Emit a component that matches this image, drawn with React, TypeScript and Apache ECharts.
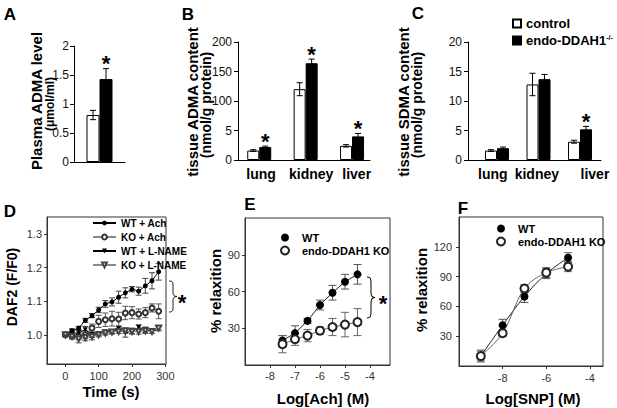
import React, { useEffect, useRef } from 'react';
import * as echarts from 'echarts';

const FONT = '"Liberation Sans", Arial, Helvetica, sans-serif';

// ---------- Panel A ----------
const aCategories = ['plasma'];
const aControl = [0.81];
const aControlErr = [0.08];
const aKo = [1.43];
const aKoErr = [0.18];
const aSig = [true];

// ---------- Panels B & C ----------
const organCategories = ['lung', 'kidney', 'liver'];
const bControl = [16, 120, 24];
const bControlErr = [1.5, 11, 2];
const bKo = [22, 164, 40];
const bKoErr = [1.5, 7, 5];
const bSig = [true, true, true];
const bTickValues = [0, 50, 100, 150, 200];
const bTickLabels = ['0', '5', '100', '150', '200'];

const cControl = [1.6, 12.8, 3.1];
const cControlErr = [0.15, 1.9, 0.25];
const cKo = [2.0, 13.7, 5.2];
const cKoErr = [0.2, 0.8, 0.5];
const cSig = [false, false, true];

const legendNames = ['control', 'endo-DDAH1-/-'];

// ---------- Panel D ----------
const dTime = [0, 20, 40, 60, 80, 100, 120, 140, 160, 180, 200, 220, 240, 260, 280];
const dWtAch = [1.0, 1.012, 1.02, 1.043, 1.057, 1.074, 1.092, 1.098, 1.112, 1.125, 1.136, 1.13, 1.146, 1.161, 1.188];
const dWtAchErr = [0.004, 0.006, 0.005, 0.006, 0.006, 0.008, 0.01, 0.012, 0.018, 0.015, 0.008, 0.012, 0.022, 0.024, 0.025];
const dKoAch = [1.0, 0.997, 0.995, 1.0, 1.02, 1.04, 1.045, 1.048, 1.047, 1.065, 1.066, 1.062, 1.066, 1.08, 1.07];
const dKoAchErr = [0.006, 0.008, 0.01, 0.012, 0.012, 0.018, 0.02, 0.022, 0.02, 0.02, 0.018, 0.015, 0.015, 0.012, 0.022];
const dWtLn = [1.0, 1.005, 1.005, 1.015, 1.0, 1.003, 1.008, 1.01, 1.018, 1.005, 1.012, 1.022, 1.015, 1.01, 1.018];
const dWtLnErr = [0.005, 0.006, 0.008, 0.01, 0.008, 0.006, 0.006, 0.006, 0.006, 0.012, 0.008, 0.008, 0.008, 0.006, 0.006];
const dKoLn = [1.0, 0.995, 0.988, 0.992, 0.995, 1.0, 1.005, 1.008, 1.01, 1.012, 1.01, 1.01, 1.012, 1.01, 1.02];
const dKoLnErr = [0.006, 0.008, 0.012, 0.01, 0.01, 0.006, 0.006, 0.006, 0.006, 0.008, 0.008, 0.008, 0.008, 0.006, 0.006];
const dSeriesNames = ['WT + Ach', 'KO + Ach', 'WT + L-NAME', 'KO + L-NAME'];
const dXTicks = [0, 100, 200, 300];
const dYTicks = [1.0, 1.1, 1.2, 1.3];

// ---------- Panel E ----------
const eLogAch = [-7.5, -7, -6.5, -6, -5.5, -5, -4.5];
const eWt = [20, 26, 36, 49, 59, 68, 74];
const eWtErr = [4, 6, 2, 4, 6, 6, 8];
const eKo = [17, 21, 24, 28, 31, 33, 35];
const eKoErr = [7, 5, 5, 3, 7, 10, 11];
const eXTicks = [-8, -7, -6, -5, -4];
const eYTicks = [30, 60, 90];

// ---------- Panel F ----------
const fLogSnp = [-9, -8, -7, -6, -5];
const fWt = [10, 41, 70, 93, 109];
const fWtErr = [5, 6, 6, 5, 5];
const fKo = [10, 33, 78, 94, 100];
const fKoErr = [6, 3, 4, 5, 5];
const fXTicks = [-8, -6, -4];
const fYTicks = [30, 60, 90, 120];

const genotypeNames = ['WT', 'endo-DDAH1 KO'];

// layout: where the organ names sit along the B and C axes (axis units)
const bLabelSpots = [0.04, 1.12, 2.1];
const cLabelSpots = [-0.1, 0.96, 2.36];

const BRACE_PATH =
  'M0,0 C4,0 4,2 4,7 L4,15 C4,18 5,20 8,20 C5,20 4,22 4,25 L4,33 C4,38 4,40 0,40';
echarts.graphic.registerShape('brace', echarts.graphic.extendPath(BRACE_PATH, {}) as any);

function barErrorSeries(
  axisIndex: number,
  values: number[],
  errs: number[],
  offset: number,
  sig: boolean[] | null
) {
  return {
    type: 'custom',
    xAxisIndex: axisIndex,
    yAxisIndex: axisIndex,
    silent: true,
    z: 5,
    data: values.map((v, i) => [i, v, errs[i]]),
    renderItem: (params: any, api: any) => {
      const x = api.value(0);
      const v = api.value(1);
      const e = api.value(2);
      const t = api.coord([x, v + e]);
      const b = api.coord([x, v - e]);
      const cx = t[0] + offset;
      const cap = 3;
      const st = { stroke: '#000', lineWidth: 1 };
      const children: any[] = [
        { type: 'line', shape: { x1: cx, y1: t[1], x2: cx, y2: b[1] }, style: st },
        { type: 'line', shape: { x1: cx - cap, y1: t[1], x2: cx + cap, y2: t[1] }, style: st },
        { type: 'line', shape: { x1: cx - cap, y1: b[1], x2: cx + cap, y2: b[1] }, style: st },
      ];
      if (sig && sig[params.dataIndex]) {
        children.push({
          type: 'text',
          x: cx,
          y: t[1] - 5,
          style: {
            text: '*',
            fontFamily: FONT,
            fontSize: 22,
            fontWeight: 'bold',
            fill: '#000',
            align: 'center',
            verticalAlign: 'middle',
          },
        });
      }
      return { type: 'group', children };
    },
  };
}

function pointErrorSeries(
  axisIndex: number,
  xs: number[],
  values: number[],
  errs: number[],
  cap: number,
  color: string
) {
  return {
    type: 'custom',
    xAxisIndex: axisIndex,
    yAxisIndex: axisIndex,
    silent: true,
    z: 1,
    data: xs.map((x, i) => [x, values[i], errs[i]]),
    renderItem: (_params: any, api: any) => {
      const x = api.value(0);
      const v = api.value(1);
      const e = api.value(2);
      const t = api.coord([x, v + e]);
      const b = api.coord([x, v - e]);
      const cx = t[0];
      const st = { stroke: color, lineWidth: 1 };
      return {
        type: 'group',
        children: [
          { type: 'line', shape: { x1: cx, y1: t[1], x2: cx, y2: b[1] }, style: st },
          { type: 'line', shape: { x1: cx - cap, y1: t[1], x2: cx + cap, y2: t[1] }, style: st },
          { type: 'line', shape: { x1: cx - cap, y1: b[1], x2: cx + cap, y2: b[1] }, style: st },
        ],
      };
    },
  };
}

function lineSeries(
  name: string,
  axisIndex: number,
  xs: number[],
  values: number[],
  symbol: string,
  size: number,
  markerColor: string,
  lineColor: string,
  extra: any = {}
) {
  return {
    type: 'line',
    name,
    xAxisIndex: axisIndex,
    yAxisIndex: axisIndex,
    data: xs.map((x, i) => [x, values[i]]),
    symbol,
    symbolSize: size,
    showSymbol: true,
    itemStyle: { color: markerColor, borderWidth: 1 },
    lineStyle: { color: lineColor, width: 1 },
    z: 3,
    ...extra,
  };
}

const tickLabel = { fontFamily: FONT, fontSize: 12, color: '#111' };
const smallTick = { fontFamily: FONT, fontSize: 11, color: '#333' };
const black = { color: '#000', width: 1 };

function textEl(text: string, x: number, y: number, size: number, rotate = false, extra: any = {}) {
  return {
    type: 'text',
    x,
    y,
    rotation: rotate ? Math.PI / 2 : 0,
    style: {
      text,
      fontFamily: FONT,
      fontSize: size,
      fontWeight: 'bold',
      fill: '#000',
      align: 'center',
      verticalAlign: 'middle',
      ...extra,
    },
  };
}

function buildOption(): any {
  const grids = [
    { left: 74, top: 46, width: 51, height: 116 },
    { left: 238, top: 42, width: 132, height: 118 },
    { left: 468, top: 42, width: 133, height: 118 },
    { left: 47, top: 217, width: 119, height: 147, show: true, borderColor: '#333', borderWidth: 1 },
    { left: 245, top: 218, width: 145, height: 147, show: true, borderColor: '#333', borderWidth: 1 },
    { left: 459, top: 217, width: 144, height: 149, show: true, borderColor: '#333', borderWidth: 1 },
  ].map((g) => ({ ...g, containLabel: false, outerBoundsMode: 'none' }));

  const catAxisLabel = {
    fontFamily: FONT,
    fontSize: 14,
    fontWeight: 'bold',
    color: '#000',
    margin: 7,
  };
  const organName = (v: number) => organCategories[Math.max(0, Math.min(2, Math.round(v)))];

  const xAxes = [
    {
      gridIndex: 0,
      type: 'category',
      data: aCategories,
      axisLine: { onZero: false, lineStyle: black },
      axisTick: { show: false },
      axisLabel: { show: false },
    },
    {
      gridIndex: 1,
      type: 'value',
      min: -0.458,
      max: 2.387,
      axisLine: { onZero: false, lineStyle: black },
      axisTick: { show: false },
      splitLine: { show: false },
      axisLabel: { ...catAxisLabel, customValues: bLabelSpots, formatter: organName },
    },
    {
      gridIndex: 2,
      type: 'value',
      min: -0.699,
      max: 2.506,
      axisLine: { onZero: false, lineStyle: black },
      axisTick: { show: false },
      splitLine: { show: false },
      axisLabel: { ...catAxisLabel, customValues: cLabelSpots, formatter: organName },
    },
    {
      gridIndex: 3,
      type: 'value',
      min: -55,
      max: 302,
      axisLine: { onZero: false, lineStyle: { color: '#333', width: 1 } },
      axisTick: { customValues: dXTicks, length: 3, lineStyle: { color: '#333' } },
      splitLine: { show: false },
      axisLabel: { ...smallTick, customValues: dXTicks, margin: 6 },
    },
    {
      gridIndex: 4,
      type: 'value',
      min: -9,
      max: -3.2,
      axisLine: { onZero: false, lineStyle: { color: '#333', width: 1 } },
      axisTick: { customValues: eXTicks, length: 3, lineStyle: { color: '#333' } },
      splitLine: { show: false },
      axisLabel: { ...smallTick, customValues: eXTicks, margin: 5 },
    },
    {
      gridIndex: 5,
      type: 'value',
      min: -10,
      max: -3.4,
      axisLine: { onZero: false, lineStyle: { color: '#333', width: 1 } },
      axisTick: { customValues: fXTicks, length: 3, lineStyle: { color: '#333' } },
      splitLine: { show: false },
      axisLabel: { ...smallTick, customValues: fXTicks, margin: 6 },
    },
  ];

  const yAxes = [
    {
      gridIndex: 0,
      type: 'value',
      min: 0,
      max: 2,
      interval: 0.5,
      axisLine: { show: true, onZero: false, lineStyle: black },
      axisTick: { show: true, length: 4, lineStyle: black },
      splitLine: { show: false },
      axisLabel: { ...tickLabel, margin: 5 },
    },
    {
      gridIndex: 1,
      type: 'value',
      min: 0,
      max: 200,
      interval: 50,
      axisLine: { show: true, onZero: false, lineStyle: black },
      axisTick: { show: true, length: 4, lineStyle: black },
      splitLine: { show: false },
      axisLabel: {
        ...tickLabel,
        margin: 6,
        formatter: (v: number) => bTickLabels[bTickValues.indexOf(v)] ?? String(v),
      },
    },
    {
      gridIndex: 2,
      type: 'value',
      min: 0,
      max: 20,
      interval: 5,
      axisLine: { show: true, onZero: false, lineStyle: black },
      axisTick: { show: true, length: 4, lineStyle: black },
      splitLine: { show: false },
      axisLabel: { ...tickLabel, margin: 6 },
    },
    {
      gridIndex: 3,
      type: 'value',
      min: 0.913,
      max: 1.351,
      axisLine: { show: true, onZero: false, lineStyle: { color: '#333', width: 1 } },
      axisTick: { show: true, customValues: dYTicks, length: 3, lineStyle: { color: '#333' } },
      splitLine: { show: false },
      axisLabel: { ...smallTick, customValues: dYTicks, margin: 5, formatter: (v: number) => v.toFixed(1) },
    },
    {
      gridIndex: 4,
      type: 'value',
      min: 0,
      max: 120,
      axisLine: { show: true, onZero: false, lineStyle: { color: '#333', width: 1 } },
      axisTick: { show: true, customValues: eYTicks, length: 3, lineStyle: { color: '#333' } },
      splitLine: { show: false },
      axisLabel: { ...smallTick, customValues: eYTicks, margin: 5 },
    },
    {
      gridIndex: 5,
      type: 'value',
      min: 0,
      max: 150,
      axisLine: { show: true, onZero: false, lineStyle: { color: '#333', width: 1 } },
      axisTick: { show: true, customValues: fYTicks, length: 3, lineStyle: { color: '#333' } },
      splitLine: { show: false },
      axisLabel: { ...smallTick, customValues: fYTicks, margin: 7 },
    },
  ];

  const whiteBar = { color: '#fff', borderColor: '#000', borderWidth: 1 };
  const blackBar = { color: '#000', borderColor: '#000', borderWidth: 1 };
  const bw = 12;

  const series: any[] = [
    // A
    { type: 'bar', name: legendNames[0], xAxisIndex: 0, yAxisIndex: 0, data: aControl, barWidth: 13, barGap: '0%', itemStyle: whiteBar },
    { type: 'bar', name: legendNames[1], xAxisIndex: 0, yAxisIndex: 0, data: aKo, barWidth: 13, barGap: '0%', itemStyle: blackBar },
    barErrorSeries(0, aControl, aControlErr, -6.5, null),
    barErrorSeries(0, aKo, aKoErr, 6.5, aSig),
    // B
    { type: 'bar', name: legendNames[0], xAxisIndex: 1, yAxisIndex: 1, data: bControl.map((v, i) => [i, v]), barWidth: bw, barGap: '0%', itemStyle: whiteBar },
    { type: 'bar', name: legendNames[1], xAxisIndex: 1, yAxisIndex: 1, data: bKo.map((v, i) => [i, v]), barWidth: bw, barGap: '0%', itemStyle: blackBar },
    barErrorSeries(1, bControl, bControlErr, -bw / 2, null),
    barErrorSeries(1, bKo, bKoErr, bw / 2, bSig),
    // C
    { type: 'bar', name: legendNames[0], xAxisIndex: 2, yAxisIndex: 2, data: cControl.map((v, i) => [i, v]), barWidth: bw, barGap: '0%', itemStyle: whiteBar },
    { type: 'bar', name: legendNames[1], xAxisIndex: 2, yAxisIndex: 2, data: cKo.map((v, i) => [i, v]), barWidth: bw, barGap: '0%', itemStyle: blackBar },
    barErrorSeries(2, cControl, cControlErr, -bw / 2, null),
    barErrorSeries(2, cKo, cKoErr, bw / 2, cSig),
    // D
    pointErrorSeries(3, dTime, dWtAch, dWtAchErr, 3, '#444'),
    pointErrorSeries(3, dTime, dKoAch, dKoAchErr, 3, '#555'),
    pointErrorSeries(3, dTime, dWtLn, dWtLnErr, 3, '#444'),
    pointErrorSeries(3, dTime, dKoLn, dKoLnErr, 3, '#555'),
    lineSeries(dSeriesNames[0], 3, dTime, dWtAch, 'circle', 5, '#000', '#000'),
    lineSeries(dSeriesNames[1], 3, dTime, dKoAch, 'emptyCircle', 5, '#333', '#888'),
    lineSeries(dSeriesNames[2], 3, dTime, dWtLn, 'triangle', 5, '#000', '#000', { symbolRotate: 180 }),
    lineSeries(dSeriesNames[3], 3, dTime, dKoLn, 'emptyTriangle', 5, '#444', '#888', { symbolRotate: 180 }),
    // E
    pointErrorSeries(4, eLogAch, eWt, eWtErr, 4, '#555'),
    pointErrorSeries(4, eLogAch, eKo, eKoErr, 4, '#666'),
    lineSeries(genotypeNames[0], 4, eLogAch, eWt, 'circle', 8, '#000', '#222'),
    lineSeries(genotypeNames[1], 4, eLogAch, eKo, 'emptyCircle', 8, '#222', '#666'),
    // F
    pointErrorSeries(5, fLogSnp, fWt, fWtErr, 4, '#555'),
    pointErrorSeries(5, fLogSnp, fKo, fKoErr, 4, '#666'),
    lineSeries(genotypeNames[0], 5, fLogSnp, fWt, 'circle', 8, '#000', '#222', { smooth: 0.35 }),
    lineSeries(genotypeNames[1], 5, fLogSnp, fKo, 'emptyCircle', 8, '#222', '#666', { smooth: 0.35 }),
  ];

  const legendText = (size: number) => ({ fontFamily: FONT, fontSize: size, fontWeight: 'bold', color: '#000' });

  const legends = [
    {
      data: legendNames,
      left: 512,
      top: 17,
      orient: 'vertical',
      icon: 'rect',
      itemWidth: 8,
      itemHeight: 8,
      itemGap: 4,
      padding: 0,
      selectedMode: false,
      textStyle: {
        ...legendText(13),
        rich: { sup: { fontFamily: FONT, fontSize: 7, fontWeight: 'bold', verticalAlign: 'top', color: '#000' } },
      },
      formatter: (n: string) => (n === legendNames[1] ? 'endo-DDAH1{sup|-/-}' : n),
    },
    {
      data: dSeriesNames,
      left: 92,
      top: 218,
      orient: 'vertical',
      itemWidth: 23,
      itemHeight: 6,
      itemGap: 4,
      padding: 0,
      selectedMode: false,
      textStyle: legendText(10),
    },
    {
      data: genotypeNames,
      left: 273,
      top: 232,
      orient: 'vertical',
      itemWidth: 24,
      itemHeight: 10,
      itemGap: 2,
      padding: 0,
      selectedMode: false,
      lineStyle: { width: 0, opacity: 0 },
      textStyle: legendText(11),
    },
    {
      data: genotypeNames,
      left: 489,
      top: 223,
      orient: 'vertical',
      itemWidth: 24,
      itemHeight: 10,
      itemGap: 2,
      padding: 0,
      selectedMode: false,
      lineStyle: { width: 0, opacity: 0 },
      textStyle: legendText(11),
    },
  ];

  const graphic: any[] = [
    // panel letters
    textEl('A', 10, 14, 17),
    textEl('B', 188, 14, 17),
    textEl('C', 418, 13, 17),
    textEl('D', 10, 211, 17),
    textEl('E', 250, 204, 17),
    textEl('F', 463, 208, 17),
    // A/B/C axis titles
    textEl('Plasma ADMA level', 36, 101, 15, true),
    textEl('(\u03bcmol/ml)', 50, 104, 12, true),
    textEl('tissue ADMA content', 192, 102, 15, true),
    textEl('(nmol/g protein)', 206, 105, 14, true),
    textEl('tissue SDMA content', 403, 102, 15, true),
    textEl('(nmol/g protein)', 417, 105, 14, true),
    // D/E/F axis titles
    textEl('DAF2 (F/F0)', 12, 287, 14, true),
    textEl('Time (s)', 111, 391, 15),
    textEl('% relaxition', 215, 291, 15, true),
    textEl('Log[Ach] (M)', 323, 398, 15),
    textEl('% relaxition', 421, 290, 15, true),
    textEl('Log[SNP] (M)', 533, 398, 15),
    // significance braces and stars
    {
      type: 'brace',
      x: 169,
      y: 281,
      scaleX: 1,
      scaleY: 31 / 40,
      style: { stroke: '#000', fill: 'none', lineWidth: 1, strokeNoScale: true },
    },
    textEl('*', 182, 302, 22),
    {
      type: 'brace',
      x: 367,
      y: 277,
      scaleX: 1,
      scaleY: 41 / 40,
      style: { stroke: '#000', fill: 'none', lineWidth: 1, strokeNoScale: true },
    },
    textEl('*', 383, 303, 22),
  ];

  return {
    animation: false,
    backgroundColor: '#fff',
    grid: grids,
    xAxis: xAxes,
    yAxis: yAxes,
    legend: legends,
    series,
    graphic,
  };
}

export default function App() {
  const ref = useRef<HTMLDivElement>(null);
  useEffect(() => {
    if (!ref.current) return;
    const chart = echarts.init(ref.current, null, { renderer: 'svg' });
    chart.setOption(buildOption());
    return () => chart.dispose();
  }, []);
  return (
    <div
      ref={ref}
      style={{ position: 'absolute', left: 0, top: 0, width: 617, height: 408, background: '#fff' }}
    />
  );
}
